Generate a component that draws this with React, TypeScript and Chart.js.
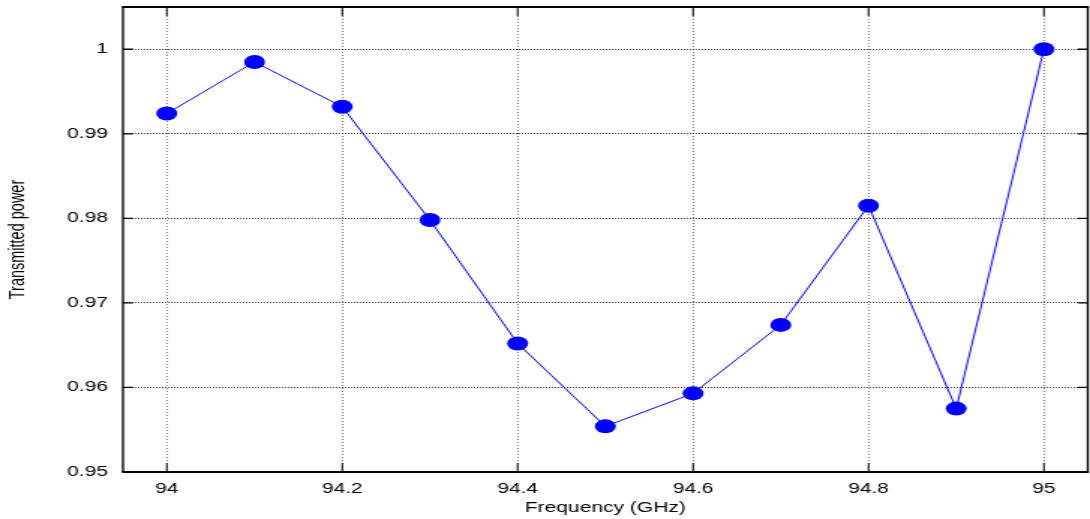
import { useEffect, useRef } from 'react';
import { Chart, registerables } from 'chart.js';

Chart.register(...registerables);

const frequencies = [94, 94.1, 94.2, 94.3, 94.4, 94.5, 94.6, 94.7, 94.8, 94.9, 95];
const transmittedPower = [0.9924, 0.9985, 0.9932, 0.9798, 0.9652, 0.9554, 0.9593, 0.9674, 0.9815, 0.9575, 1.0];
const xTickValues = [94, 94.2, 94.4, 94.6, 94.8, 95];
const yTickValues = [0.95, 0.96, 0.97, 0.98, 0.99, 1];
const xTitle = 'Frequency (GHz)';
const yTitle = 'Transmitted power';

const W = 1090;
const H = 519;
const SX = 1.5; // horizontal stretch of the original picture
const IW = Math.round(W / SX);

const fmt = (v: number) => String(Number(Number(v).toFixed(3)));

const framePlugin = {
  id: 'frameTicks',
  afterDraw(chart: any) {
    const { ctx, chartArea, scales } = chart;
    const { left, right, top, bottom } = chartArea;
    ctx.save();
    ctx.strokeStyle = '#000';
    ctx.lineWidth = 1;
    ctx.beginPath();
    for (const v of xTickValues) {
      const px = scales.x.getPixelForValue(v);
      ctx.moveTo(px, bottom);
      ctx.lineTo(px, bottom - 9);
      ctx.moveTo(px, top);
      ctx.lineTo(px, top + 9);
    }
    ctx.stroke();
    ctx.lineWidth = 1.3;
    ctx.beginPath();
    for (const v of yTickValues) {
      const py = scales.y.getPixelForValue(v);
      ctx.moveTo(left, py);
      ctx.lineTo(left + 6.7, py);
      ctx.moveTo(right, py);
      ctx.lineTo(right - 6.7, py);
    }
    ctx.stroke();
    ctx.lineWidth = 2;
    ctx.beginPath();
    ctx.moveTo(left - 0.7, top);
    ctx.lineTo(right + 0.7, top);
    ctx.moveTo(left - 0.7, bottom);
    ctx.lineTo(right + 0.7, bottom);
    ctx.stroke();
    ctx.lineWidth = 1.35;
    ctx.beginPath();
    ctx.moveTo(left, top);
    ctx.lineTo(left, bottom);
    ctx.moveTo(right, top);
    ctx.lineTo(right, bottom);
    ctx.stroke();
    ctx.restore();
  },
};

const zeroPad = (s: any) => {
  s.paddingTop = 0;
  s.paddingBottom = 0;
  s.paddingLeft = 0;
  s.paddingRight = 0;
};

export default function App() {
  const ref = useRef<HTMLCanvasElement | null>(null);
  useEffect(() => {
    if (!ref.current) return;
    Chart.defaults.font.family = '"Liberation Sans", Arial, Helvetica, sans-serif';
    Chart.defaults.color = '#000';
    const chart = new Chart(ref.current, {
      type: 'line',
      data: {
        datasets: [
          {
            data: frequencies.map((f, i) => ({ x: f, y: transmittedPower[i] })),
            borderColor: '#0000ff',
            borderWidth: 1,
            pointRadius: 7,
            pointHoverRadius: 7,
            pointBackgroundColor: '#0000ff',
            pointBorderWidth: 0,
            tension: 0,
            fill: false,
          },
        ],
      },
      options: {
        animation: false,
        responsive: false,
        devicePixelRatio: 1,
        layout: { autoPadding: false, padding: { top: 7, right: 1.5, left: 0, bottom: 0 } },
        plugins: { legend: { display: false }, tooltip: { enabled: false } },
        scales: {
          x: {
            type: 'linear',
            min: 93.95,
            max: 95.05,
            afterBuildTicks: (s: any) => {
              s.ticks = xTickValues.map((v) => ({ value: v }));
            },
            afterFit: (s: any) => {
              s.height = 47;
              zeroPad(s);
            },
            ticks: {
              callback: (v: any) => fmt(v),
              font: { size: 14 },
              color: '#000',
              padding: 9,
              maxRotation: 0,
              autoSkip: false,
            },
            grid: { color: 'rgba(0,0,0,0.75)', lineWidth: 0.7, drawTicks: false },
            border: { display: false, dash: [1, 2] },
            title: {
              display: true,
              text: xTitle,
              font: { size: 14 },
              color: '#000',
              padding: { top: 0, bottom: 2 },
            },
          },
          y: {
            type: 'linear',
            min: 0.95,
            max: 1.005,
            afterBuildTicks: (s: any) => {
              s.ticks = yTickValues.map((v) => ({ value: v }));
            },
            afterFit: (s: any) => {
              s.width = 82;
              zeroPad(s);
            },
            ticks: {
              callback: (v: any) => fmt(v),
              font: { size: 14 },
              color: '#000',
              padding: 10,
              autoSkip: false,
            },
            grid: { color: 'rgba(0,0,0,0.75)', lineWidth: 1, drawTicks: false },
            border: { display: false, dash: [1, 1] },
            title: {
              display: true,
              text: yTitle,
              font: { size: 14.5 },
              color: '#000',
              padding: { top: 3.5, bottom: 0 },
            },
          },
        },
      },
      plugins: [framePlugin],
    });
    return () => chart.destroy();
  }, []);
  return (
    <div style={{ position: 'fixed', left: 0, top: 0, width: W, height: H, background: '#fff' }}>
      <canvas ref={ref} width={IW} height={H} style={{ display: 'block', width: `${W}px`, height: `${H}px` }} />
    </div>
  );
}
